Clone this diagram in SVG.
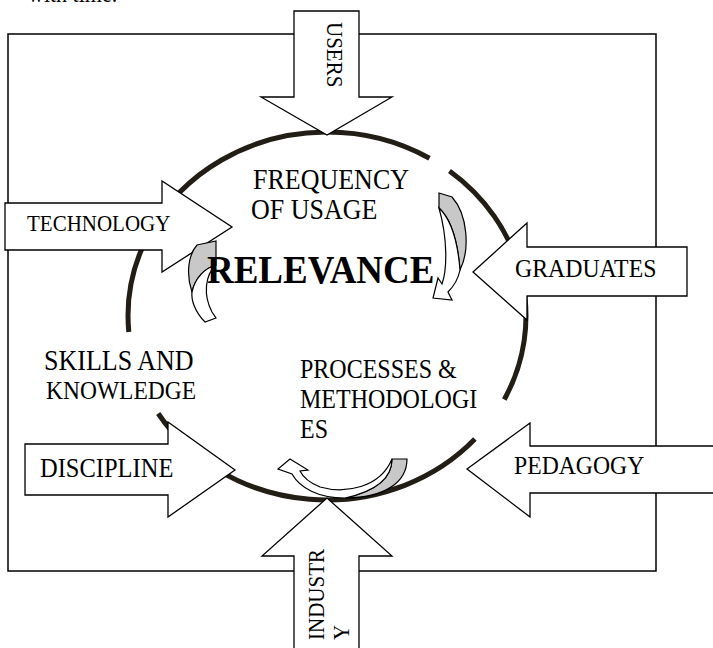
<svg xmlns="http://www.w3.org/2000/svg" width="713" height="648" viewBox="0 0 713 648">
<style>
.t{font-family:"Liberation Serif","Times New Roman",serif;fill:#000}
.blk{fill:#fff;stroke:#000;stroke-width:1.3;stroke-linejoin:miter}
.ring{fill:none;stroke:#221e15;stroke-width:5}
.gray{fill:#c8c8c8;stroke:#000;stroke-width:1.2}
.wht{fill:#fff;stroke:#000;stroke-width:1.2}
</style>
<rect width="713" height="648" fill="#fff"/>
<text class="t" font-size="22" transform="matrix(1 0 0 1.1 28 2)">with time.</text>
<g id="frame"><rect x="8" y="34" width="648" height="537" fill="none" stroke="#000" stroke-width="1.5"/></g>
<g id="connectors">
<path class="ring" d="M128.8,332 A199,184 0 0 1 429.5,158.3"/>
<path class="ring" d="M449.5,171 A199,184 0 0 1 504.3,399.5"/>
<path class="ring" d="M474.9,439.1 A199,184 0 0 1 158.2,413.5"/>
</g>
<g id="users"><polygon class="blk" points="294,11 359,11 359,97 392,97 327,135 261,97 294,97"/>
<text class="t" font-size="21" transform="translate(327,22) rotate(90) scale(1,1.1)">USERS</text></g>
<g id="technology"><polygon class="blk" points="5,203 162,203 162,181 232,227 162,272 162,250 5,250"/>
<text class="t" font-size="21" transform="matrix(1 0 0 1.1 27 231)">TECHNOLOGY</text></g>
<g id="graduates"><polygon class="blk" points="473,272 527,223 527,247 687,247 687,296 527,296 527,320"/>
<text class="t" font-size="23.8" transform="matrix(1 0 0 1.1 515 277)">GRADUATES</text></g>
<g id="discipline"><polygon class="blk" points="25,444 168,444 168,422 235,470 168,517 168,495 25,495"/>
<text class="t" font-size="24.5" transform="matrix(1 0 0 1.1 40 477)">DISCIPLINE</text></g>
<g id="pedagogy"><polygon class="blk" points="467,469 530,423 530,446 720,446 720,493 530,493 530,517"/>
<text class="t" font-size="23.7" transform="matrix(1 0 0 1.1 514 474)">PEDAGOGY</text></g>
<g id="industry"><polygon class="blk" points="294,660 294,556 262,556 327,498 392,556 359,556 359,660"/>
<text class="t" font-size="21" transform="translate(324,640) rotate(-90) scale(1,1.1)">INDUSTR</text>
<text class="t" font-size="21" transform="translate(349,640) rotate(-90) scale(1,1.1)">Y</text></g>
<g id="cycle-arrows">
<path class="gray" d="M439,193 L452,197 C468,215 470,250 460,270 C458,245 452,220 439,208 Z"/>
<path class="wht" d="M439,208 C452,220 458,245 460,270 C458,280 452,288 448,292 L452,300 L433,298 L438,278 L442,284 C447,270 448,240 439,208 Z"/>
<path class="gray" d="M197,245 L216,241 L216,265 C205,268 195,278 192,292 C186,275 188,255 197,245 Z"/>
<path class="wht" d="M192,292 C195,278 205,268 216,265 C205,275 203,295 212,312 L216,318 L205,322 C195,312 191,300 192,292 Z"/>
<path class="gray" d="M392,459 L407,459 C407,482 385,498 345,498 C372,492 392,480 392,459 Z"/>
<path class="wht" d="M345,498 C372,492 392,480 392,459 C380,488 345,494 320,487 C310,483 303,477 300,471 L308,470 L290,459 L278,469 L292,474 C300,488 318,498 345,498 Z"/>
</g>
<g id="labels">
<text class="t" font-size="26" transform="matrix(1 0 0 1.1 253 189)">FREQUENCY</text>
<text class="t" font-size="26" transform="matrix(1 0 0 1.1 251 219)">OF USAGE</text>
<text class="t" font-size="37" font-weight="bold" transform="matrix(1 0 0 1.1 207 283)">RELEVANCE</text>
<text class="t" font-size="26" transform="matrix(1 0 0 1.1 44 370)">SKILLS AND</text>
<text class="t" font-size="23.5" transform="matrix(1 0 0 1.1 46 399)">KNOWLEDGE</text>
<text class="t" font-size="24" transform="matrix(1 0 0 1.1 300 378)">PROCESSES &amp;</text>
<text class="t" font-size="24" transform="matrix(1 0 0 1.1 300 408)">METHODOLOGI</text>
<text class="t" font-size="24" transform="matrix(1 0 0 1.1 300 438)">ES</text>
</g>
</svg>
